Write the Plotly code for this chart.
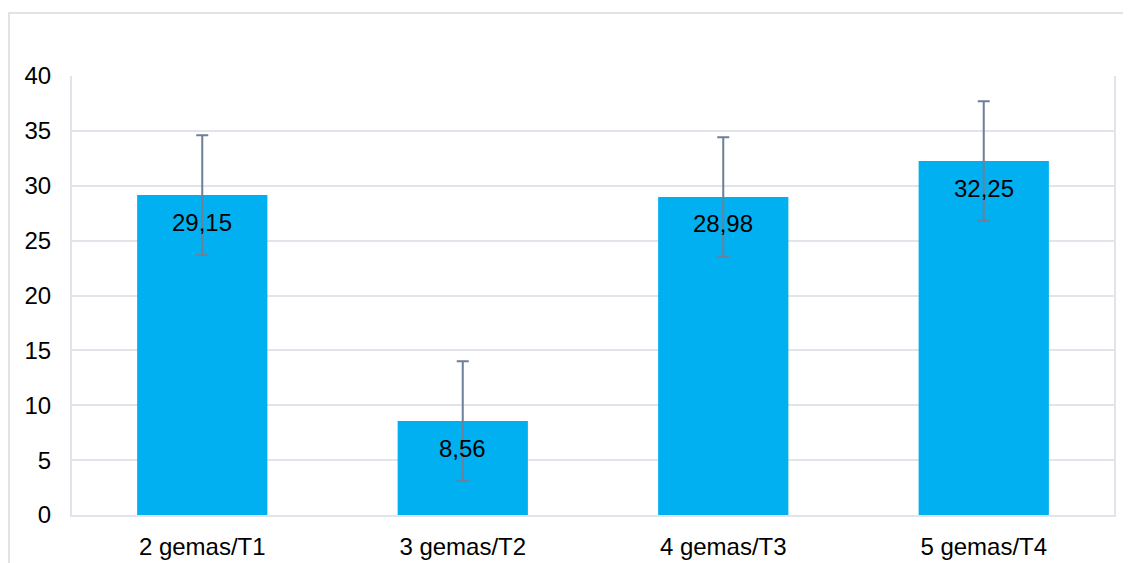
import plotly.graph_objects as go

categories = ["2 gemas/T1", "3 gemas/T2", "4 gemas/T3", "5 gemas/T4"]
values = [29.15, 8.56, 28.98, 32.25]
errors = [5.45, 5.45, 5.45, 5.45]
labels = ["29,15", "8,56", "28,98", "32,25"]
y_ticks = [0, 5, 10, 15, 20, 25, 30, 35, 40]

FONT = "Liberation Sans, Arial, sans-serif"
GRID = "#E1E4EA"

fig = go.Figure()
fig.add_trace(go.Bar(
    x=categories, y=values,
    marker=dict(color="#00B0F0", line=dict(width=0)),
    width=0.5,
    error_y=dict(type="data", array=errors, visible=True,
                 color="#6E7F99", thickness=2, width=6),
    hoverinfo="skip",
))

for c, v, t in zip(categories, values, labels):
    fig.add_annotation(x=c, y=v, text=t, showarrow=False, yshift=-27,
                       font=dict(family=FONT, size=24, color="#000000"))

# outer chart border
fig.add_shape(type="rect", xref="paper", yref="paper",
              x0=-0.0605, x1=1.2, y0=-0.3, y1=1.1435,
              line=dict(color="#E3E3E3", width=2), fillcolor="rgba(0,0,0,0)", layer="below")

fig.update_layout(
    width=1123, height=555,
    margin=dict(l=64, r=17, t=68, b=48, autoexpand=False),
    paper_bgcolor="white", plot_bgcolor="white",
    showlegend=False,
    bargap=0.5,
    font=dict(family=FONT, size=24, color="#000000"),
    xaxis=dict(showgrid=False, showline=True, linecolor=GRID, linewidth=2, automargin=False,
               ticks="", tickfont=dict(size=24, color="#000000"), ticklabelstandoff=9),
    yaxis=dict(range=[0, 40], tickvals=y_ticks, showgrid=True, gridcolor=GRID, gridwidth=2,
               zeroline=False, showline=True, mirror=True, linecolor=GRID, linewidth=2,
               automargin=False,
               ticks="", tickfont=dict(size=24, color="#000000"), ticklabelstandoff=14),
)

fig.write_html("out.html")
